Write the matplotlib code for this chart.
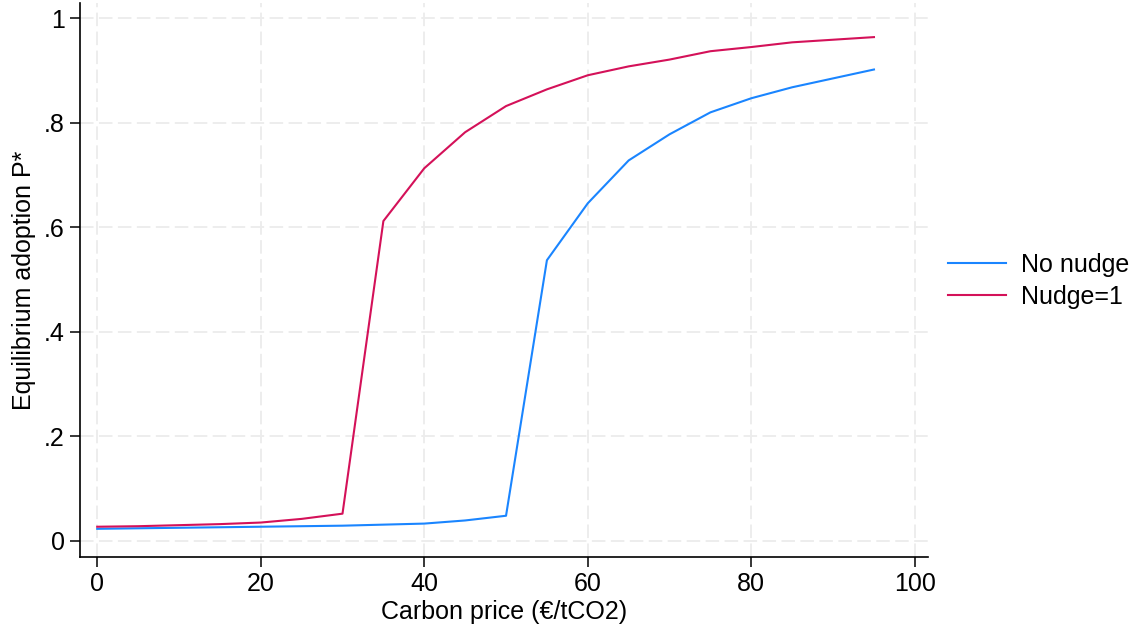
import matplotlib.pyplot as plt
from matplotlib.ticker import FixedLocator

plt.rcParams['font.family'] = ['Liberation Sans', 'DejaVu Sans']

price = [0, 5, 10, 15, 20, 25, 30, 35, 40, 45, 50, 55, 60, 65, 70, 75, 80, 85, 90, 95]
no_nudge = [0.023, 0.024, 0.025, 0.026, 0.027, 0.028, 0.029, 0.031, 0.033, 0.039, 0.048,
            0.537, 0.646, 0.728, 0.778, 0.820, 0.847, 0.868, 0.885, 0.902]
nudge1 = [0.027, 0.028, 0.030, 0.032, 0.035, 0.042, 0.052, 0.612, 0.713, 0.782, 0.832,
          0.864, 0.891, 0.908, 0.921, 0.937, 0.945, 0.954, 0.959, 0.964]

x_ticks = [0, 20, 40, 60, 80, 100]
y_ticks = [0, 0.2, 0.4, 0.6, 0.8, 1.0]
y_tick_labels = ['0', '.2', '.4', '.6', '.8', '1']

fig = plt.figure(figsize=(11.29, 6.28), dpi=100)
ax = fig.add_axes([0.0709, 0.113, 0.751, 0.882])

ax.plot(price, no_nudge, color='#1a85ff', lw=1.5, label='No nudge')
ax.plot(price, nudge1, color='#d41159', lw=1.5, label='Nudge=1')

ax.set_xlim(-2.1, 101.6)
ax.set_ylim(-0.031, 1.029)
ax.xaxis.set_major_locator(FixedLocator(x_ticks))
ax.set_yticks(y_ticks)
ax.set_yticklabels(y_tick_labels)

ax.grid(True, color='#ececec', linestyle=(0, (7.5, 3)), lw=1.3)
ax.set_axisbelow(True)
for side in ['top', 'right']:
    ax.spines[side].set_visible(False)
for side in ['left', 'bottom']:
    ax.spines[side].set_linewidth(1.2)
ax.tick_params(axis='both', direction='out', length=7, width=1.1, labelsize=18, pad=4)

ax.set_xlabel('Carbon price (€/tCO2)', fontsize=18, labelpad=3)
ax.set_ylabel('Equilibrium adoption P*', fontsize=18, labelpad=6)

ax.legend(loc='center left', bbox_to_anchor=(1.012, 0.498), frameon=False,
          fontsize=18, handlelength=2.3, handletextpad=0.6, labelspacing=0.32,
          borderaxespad=0)

fig.savefig('out.png', dpi=100)
